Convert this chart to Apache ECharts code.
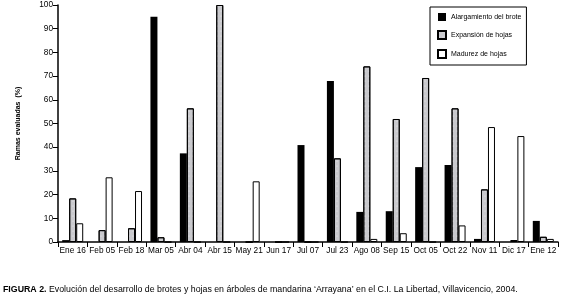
<!DOCTYPE html>
<html><head><meta charset="utf-8">
<script src="https://cdn.jsdelivr.net/npm/echarts@6/dist/echarts.min.js"></script>
<style>html,body{margin:0;padding:0;background:#fff}#c{width:562px;height:299px}</style>
</head><body><div id="c"></div>
<script>
const categories = ['Ene 16','Feb 05','Feb 18','Mar 05','Abr 04','Abr 15','May 21','Jun 17','Jul 07','Jul 23','Ago 08','Sep 15','Oct 05','Oct 22','Nov 11','Dic 17','Ene 12'];
const alargamiento = [0.8,0,0,95,37.4,0,0,0,40.9,67.9,12.7,13,31.6,32.5,1.3,0,8.9];
const expansion = [18.4,5,5.8,2,56.4,100,0,0,0,35.3,74.1,51.9,69.2,56.4,22.2,0.8,2.2];
const madurez = [7.9,27.3,21.5,0,0,0,25.6,0,0,0,1.3,3.7,0,7,48.5,44.7,1.3];
const yTicks = [0,10,20,30,40,50,60,70,80,90,100];
const font = '"Liberation Sans Narrow","Liberation Sans",Arial,sans-serif';
const chart = echarts.init(document.getElementById('c'));
const grayDecal = {symbol:'circle', symbolSize:0.5, color:'rgba(255,255,255,0.85)', dashArrayX:[2,2], dashArrayY:[2,3], rotation:0};
chart.setOption({
  animation:false,
  textStyle:{fontFamily:font},
  grid:{left:58,right:4,top:5,bottom:57},
  legend:{
    show:true, left:430, top:7, orient:'vertical', itemWidth:8, itemHeight:8, itemGap:9, icon:'rect',
    padding:[6,5,6,7], borderColor:'#000', borderWidth:1, backgroundColor:'#fff',
    textStyle:{fontSize:7, fontFamily:font, color:'#000'},
    data:['Alargamiento del brote','Expansión de hojas','Madurez de hojas']
  },
  xAxis:{
    type:'category', data:categories,
    axisLine:{lineStyle:{color:'#000',width:1.5}},
    axisTick:{show:true, length:5, lineStyle:{color:'#000'}},
    axisLabel:{color:'#000', fontSize:8.3, fontFamily:font, margin:5, interval:0}
  },
  yAxis:{
    type:'value', min:yTicks[0], max:yTicks[yTicks.length-1], interval:10,
    name:'Ramas evaluadas  (%)', nameLocation:'middle', nameGap:36, nameRotate:90,
    nameTextStyle:{fontSize:7, fontWeight:'bold', fontFamily:font, color:'#000'},
    axisLine:{show:true, lineStyle:{color:'#000',width:1.5}},
    axisTick:{show:true, length:5, lineStyle:{color:'#000'}},
    splitLine:{show:false},
    axisLabel:{color:'#000', fontSize:8.3, fontFamily:font, margin:5}
  },
  series:[
    {name:'Alargamiento del brote', type:'bar', data:alargamiento, barWidth:7, barGap:'0%',
     itemStyle:{color:'#000', borderColor:'#000', borderWidth:0}},
    {name:'Expansión de hojas', type:'bar', data:expansion, barWidth:7, barGap:'0%',
     itemStyle:{color:'#c9c9cd', borderColor:'#000', borderWidth:1, decal:grayDecal}},
    {name:'Madurez de hojas', type:'bar', data:madurez, barWidth:7, barGap:'0%',
     itemStyle:{color:'#fff', borderColor:'#000', borderWidth:1}}
  ],
  graphic:[{
    type:'text', left:3, top:285,
    style:{
      text:'{b|FIGURA 2.} Evolución del desarrollo de brotes y hojas en árboles de mandarina ‘Arrayana’ en el C.I. La Libertad, Villavicencio, 2004.',
      rich:{b:{fontWeight:'bold', fontSize:8.8, fontFamily:font, fill:'#000'}},
      fontSize:8.8, fontFamily:font, fill:'#000'
    }
  }]
});
</script></body></html>
